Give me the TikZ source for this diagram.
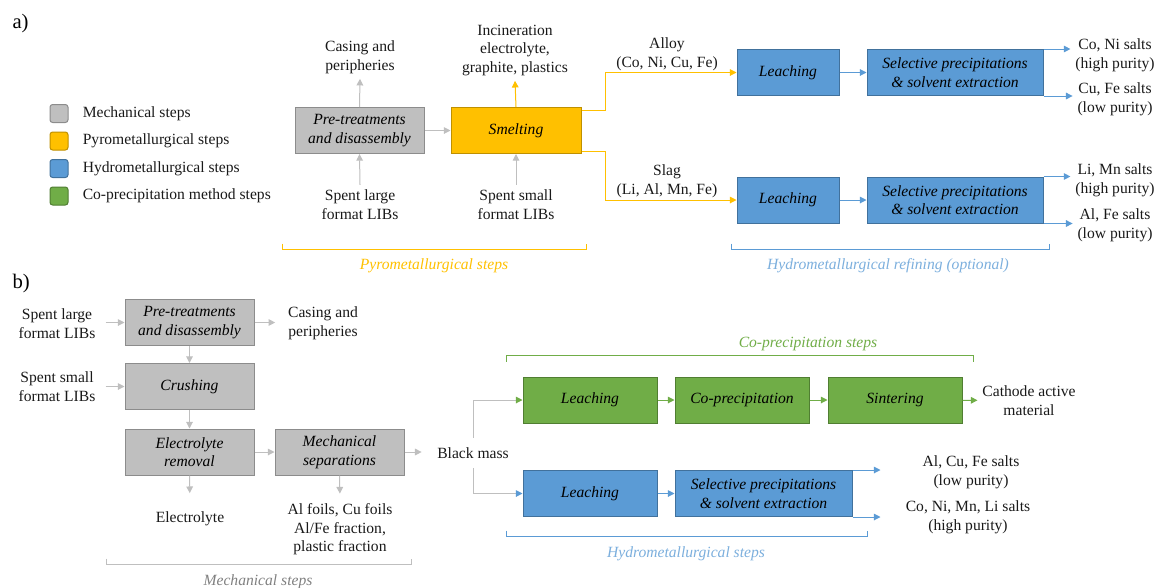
\documentclass[tikz,border=0pt]{standalone}
\usepackage{fontspec}
\setmainfont{Liberation Serif}
\usepackage{tikz}
\usetikzlibrary{arrows.meta, positioning}
\definecolor{mgray}{HTML}{BFBFBF}
\definecolor{mgrayd}{HTML}{8C8C8C}
\definecolor{mtext}{HTML}{808080}
\definecolor{pyro}{HTML}{FFC000}
\definecolor{pyrod}{HTML}{BF9000}
\definecolor{hydro}{HTML}{5B9BD5}
\definecolor{hydrod}{HTML}{41719C}
\definecolor{copr}{HTML}{70AD47}
\definecolor{coprd}{HTML}{507E32}
\newcommand{\fs}{\fontsize{11.7pt}{13.9pt}\selectfont}
\newcommand{\fslarge}{\fontsize{15.5pt}{18pt}\selectfont}

\tikzset{
    lbl/.style={align=center, font=\fs, text=black!90},
    box/.style={draw, line width=.75pt, minimum height=34.5pt, align=center, font=\fs\itshape, inner sep=2pt},
    mechbox/.style={box, fill=mgray, draw=mgrayd, minimum width=96.75pt},
    pyrobox/.style={box, fill=pyro, draw=pyrod, minimum width=97.5pt},
    hydrobox/.style={box, fill=hydro, draw=hydrod},
    coprbox/.style={box, fill=copr, draw=coprd, minimum width=100.5pt},
    legsq/.style={draw, line width=.75pt, rounded corners=2pt, minimum size=13.5pt, inner sep=0pt},
    tip/.style={-{Triangle[length=5pt, width=5pt]}},
    garrow/.style={tip, draw=mgray},
    yarrow/.style={tip, draw=pyro},
    barrow/.style={tip, draw=hydro},
    carrow/.style={tip, draw=copr},
    steplbl/.style={font=\fs\itshape},
}

\begin{document}
\begin{tikzpicture}[x=0.75pt, y=-0.75pt, line width=.75pt]
    \useasboundingbox (0,-1.5) rectangle (1156,585.5);

    % a) Legende.
    \node[font=\fslarge, anchor=west, inner sep=0pt] (pa) at (12,22) {a)};
    \foreach \f/\d/\t [count=\i] in {mgray/mgrayd/Mechanical steps, pyro/pyrod/Pyrometallurgical steps, hydro/hydrod/Hydrometallurgical steps, copr/coprd/Co-precipitation method steps}
    {
        \node[legsq, fill=\f, draw=\d] (sq\i) at (59,84.5+27.5*\i) {};
        \node[lbl, anchor=west, right=7pt of sq\i] (leg\i) {\t};
    }

    % a) Pyrometallurgie.
    \node[mechbox] (preA) at (359.5,129) {Pre-treatments\\and disassembly};
    \node[pyrobox] (smelt) at (516,129) {Smelting};
    \node[lbl] (casA) at (360,56) {Casing and\\peripheries};
    \node[lbl] (incin) at (515,49) {Incineration\\electrolyte,\\graphite, plastics};
    \node[lbl] (largeA) at (360,203) {Spent large\\format LIBs};
    \node[lbl] (smallA) at (516,203) {Spent small\\format LIBs};

    \draw[garrow] (largeA.north) -- (preA.south);
    \draw[garrow] (preA.north) -- (casA.south);
    \draw[garrow] (preA) -- (smelt);
    \draw[garrow] (smallA.north) -- (smelt.south);
    \draw[yarrow] (smelt.north) -- (incin.south);

    % a) Hydrometallurgie.
    \node[hydrobox, minimum width=76.5pt] (leachA) at (788,71) {Leaching};
    \node[hydrobox, minimum width=132pt] (selA) at (955,71) {Selective precipitations\\\& solvent extraction};
    \node[hydrobox, minimum width=76.5pt] (leachB) at (788,198.5) {Leaching};
    \node[hydrobox, minimum width=132pt] (selB) at (955,198.5) {Selective precipitations\\\& solvent extraction};
    \node[lbl] (alloy) at (667,53) {Alloy\\(Co, Ni, Cu, Fe)};
    \node[lbl] (slag) at (667,180) {Slag\\(Li, Al, Mn, Fe)};
    \node[lbl] (coni) at (1115,54) {Co, Ni salts\\(high purity)};
    \node[lbl] (cufe) at (1115,98) {Cu, Fe salts\\(low purity)};
    \node[lbl] (limn) at (1115,179) {Li, Mn salts\\(high purity)};
    \node[lbl] (alfe) at (1115,224) {Al, Fe salts\\(low purity)};

    \draw[yarrow] ([yshift=-2.25pt]smelt.north east) -- ++(24,0) |- (leachA.west);
    \draw[yarrow] ([yshift=2.25pt]smelt.south east) -- ++(24,0) |- (leachB.west);
    \draw[barrow] (leachA) -- (selA);
    \draw[barrow] (leachB) -- (selB);
    \draw[barrow] (selA.north east) -- (selA.north east -| coni.west);
    \draw[barrow] (selA.south east) -- (selA.south east -| cufe.west);
    \draw[barrow] (selB.north east) -- (selB.north east -| limn.west);
    \draw[barrow] (selB.south east) -- (selB.south east -| alfe.west);

    % a) Klammern.
    \draw[pyro] (282,242) -- (282,248) -- (586,248) -- (586,242);
    \node[steplbl, text=pyro] (pyrolbl) at (434,264) {Pyrometallurgical steps};
    \draw[hydro] (731,242) -- (731,248) -- (1049,248) -- (1049,242);
    \node[steplbl, text=hydro!80] (hydlblA) at (888,264) {Hydrometallurgical refining (optional)};

    % b) Mechanik.
    \node[font=\fslarge, anchor=west, inner sep=0pt] (pb) at (12,282) {b)};
    \node[mechbox] (preB) at (189.5,321) {Pre-treatments\\and disassembly};
    \node[mechbox] (crush) at (189.5,385) {Crushing};
    \node[mechbox] (elrem) at (189.5,450.5) {Electrolyte\\removal};
    \node[mechbox] (msep) at (339.5,450.5) {Mechanical\\separations};
    \node[lbl] (largeB) at (57,322) {Spent large\\format LIBs};
    \node[lbl] (smallB) at (57,385) {Spent small\\format LIBs};
    \node[lbl] (casB) at (323,322) {Casing and\\peripheries};
    \node[lbl] (elec) at (190,517) {Electrolyte};
    \node[lbl] (foils) at (340,528) {Al foils, Cu foils\\Al/Fe fraction,\\plastic fraction};
    \node[lbl] (bm) at (473,452) {Black mass};

    \draw[garrow, shorten <=4pt] (largeB.east |- preB.west) -- (preB.west);
    \draw[garrow, shorten <=4pt] (smallB.east |- crush.west) -- (crush.west);
    \draw[garrow, shorten >=6pt] (preB.east) -- (preB.east -| casB.west);
    \draw[garrow] (preB) -- (crush);
    \draw[garrow] (crush) -- (elrem);
    \draw[garrow] (elrem) -- (msep);
    \draw[garrow, shorten >=8pt] (msep.east) -- (msep.east -| bm.west);
    \draw[garrow, shorten >=10pt] (elrem.south) -- (elec.north);
    \draw[garrow, shorten >=4pt] (msep.south) -- (foils.north);

    % b) Co-Praezipitation und Hydrometallurgie.
    \node[coprbox] (leachC) at (590,398.5) {Leaching};
    \node[coprbox] (coprec) at (742,398.5) {Co-precipitation};
    \node[coprbox] (sinter) at (895,398.5) {Sintering};
    \node[lbl] (cam) at (1029,399) {Cathode active\\material};
    \node[hydrobox, minimum width=100.5pt] (leachD) at (590,492) {Leaching};
    \node[hydrobox, minimum width=132.75pt] (selC) at (763.5,492) {Selective precipitations\\\& solvent extraction};
    \node[lbl] (alcufe) at (971,471) {Al, Cu, Fe salts\\(low purity)};
    \node[lbl] (conimn) at (968,516) {Co, Ni, Mn, Li salts\\(high purity)};

    \draw[draw=mgray, -{Triangle[length=5pt, width=5pt, color=copr]}] ([yshift=4pt]bm.north) |- (leachC.west);
    \draw[draw=mgray, -{Triangle[length=5pt, width=5pt, color=hydro]}] ([yshift=-3pt]bm.south) |- (leachD.west);
    \draw[carrow] (leachC) -- (coprec);
    \draw[carrow] (coprec) -- (sinter);
    \draw[carrow] (sinter) -- (cam);
    \draw[barrow] (leachD) -- (selC);
    \draw[barrow] (selC.north east) -- ++(28,0);
    \draw[barrow] (selC.south east) -- ++(28,0);

    % b) Klammern.
    \draw[mgray] (106,557) -- (106,563) -- (411,563) -- (411,557);
    \node[steplbl, text=mtext] (mechlbl) at (258,580) {Mechanical steps};
    \draw[copr] (506,360) -- (506,354) -- (973,354) -- (973,360);
    \node[steplbl, text=copr] (coprlbl) at (808,342) {Co-precipitation steps};
    \draw[hydro] (506,529) -- (506,535) -- (867,535) -- (867,529);
    \node[steplbl, text=hydro!80] (hydlblB) at (686,552) {Hydrometallurgical steps};
\end{tikzpicture}
\end{document}
